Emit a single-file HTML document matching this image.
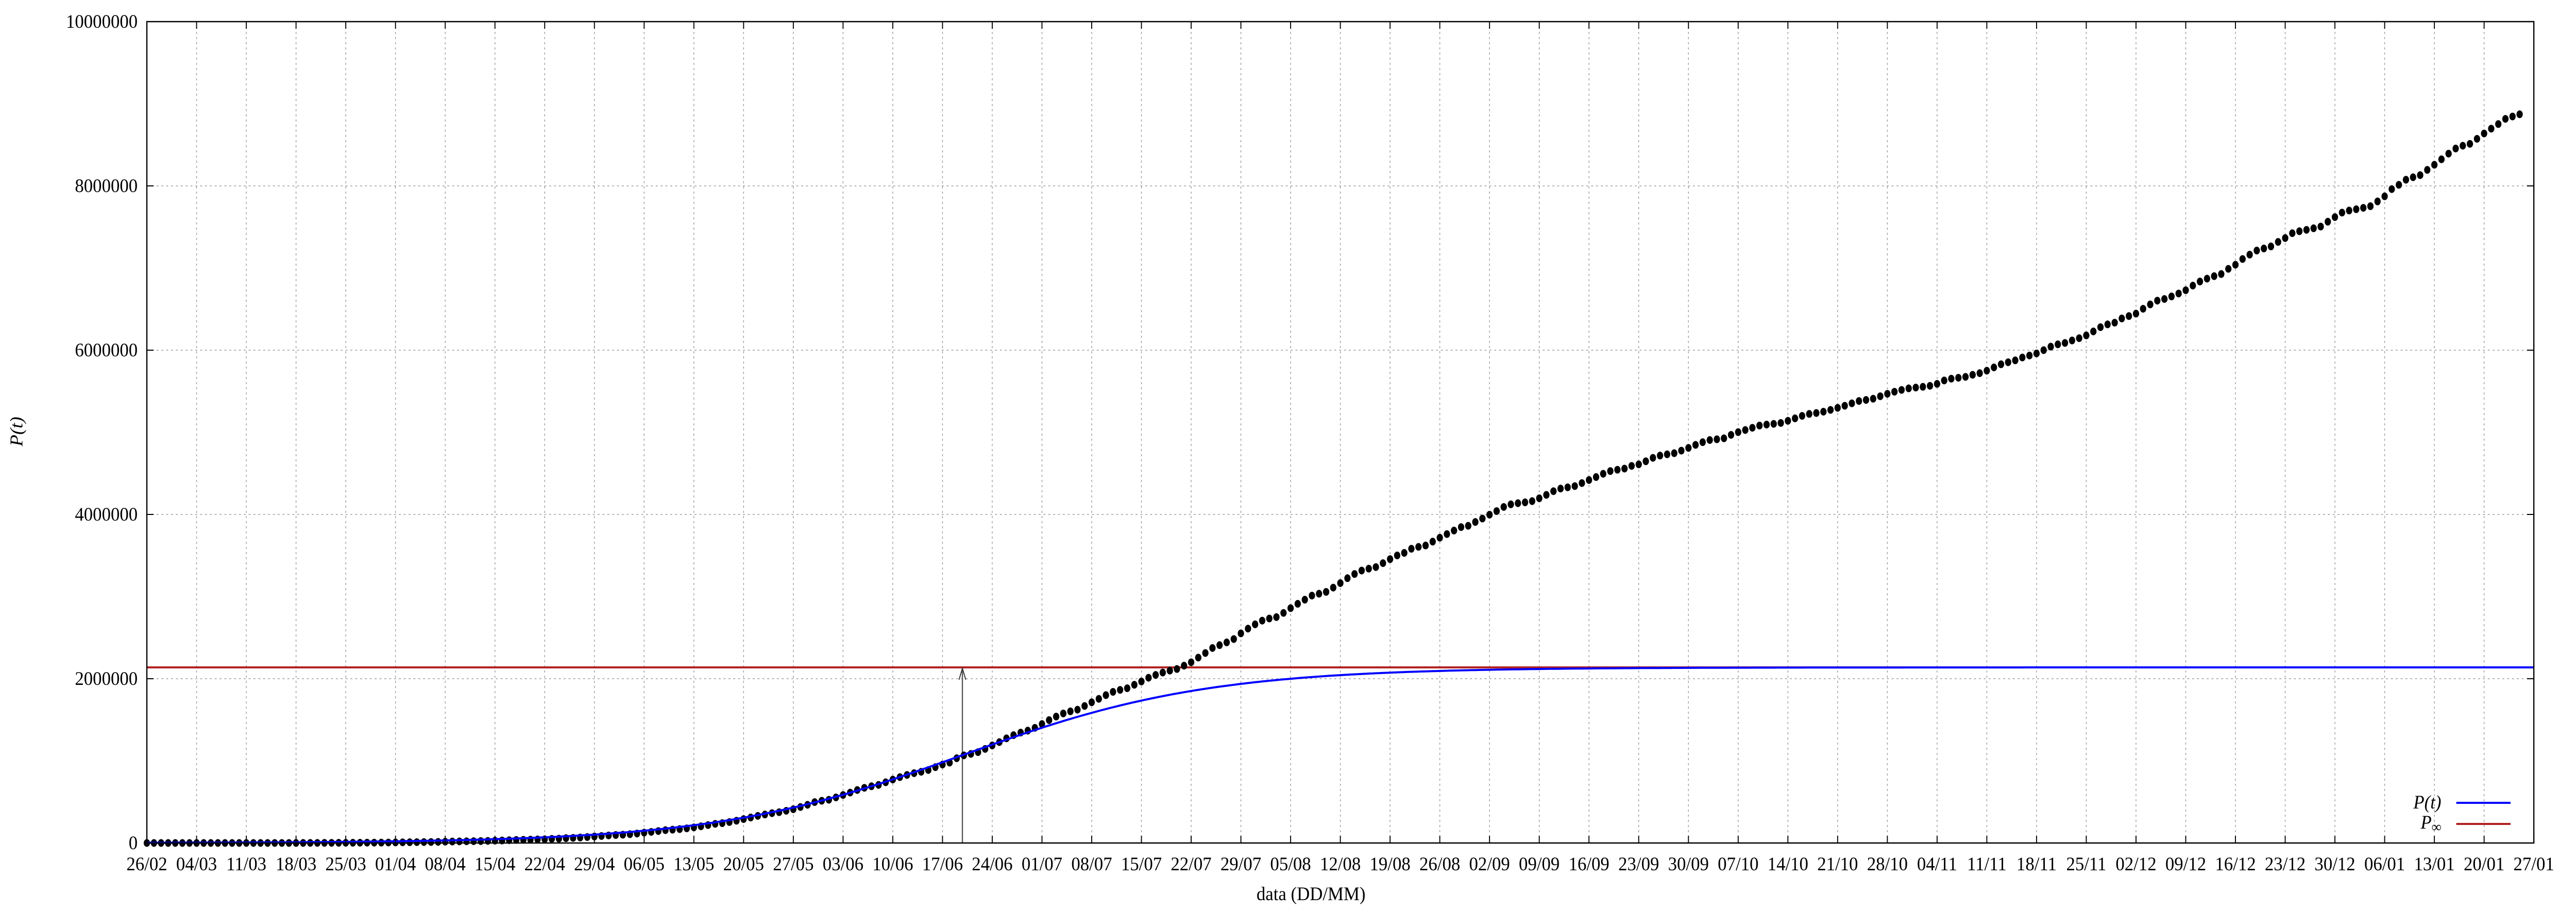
<!DOCTYPE html>
<html><head><meta charset="utf-8"><style>
html,body{margin:0;padding:0;background:#fff;width:100%;height:100%;overflow:hidden;}
svg{display:block;font-family:"Liberation Serif",serif;width:100vw;height:100vh;}
</style></head><body>
<svg id="chart" viewBox="0 0 5315 1771" preserveAspectRatio="none" xmlns="http://www.w3.org/2000/svg">
<rect x="0" y="0" width="5315" height="1771" fill="#fff"/>
<g id="grid"></g>
<g id="series"></g>
<g id="axes"></g>
<text x="2705" y="1748" font-size="37" text-anchor="middle">data (DD/MM)</text>
<text transform="translate(46,838) rotate(-90)" font-size="37" text-anchor="middle" font-style="italic">P(t)</text>
<g>
<text x="5037" y="1570" font-size="37" text-anchor="end" font-style="italic">P(t)</text>
<line x1="5068" y1="1559" x2="5180" y2="1559" stroke="#0000ff" stroke-width="4"/>
<text x="5037" y="1609" font-size="37" text-anchor="end" font-style="italic">P<tspan font-size="28" dy="6">∞</tspan></text>
<line x1="5068" y1="1600" x2="5180" y2="1600" stroke="#b22222" stroke-width="4"/>
</g>
</svg>
<script>
const xTickLabels = ["26/02","04/03","11/03","18/03","25/03","01/04","08/04","15/04","22/04","29/04","06/05","13/05","20/05","27/05","03/06","10/06","17/06","24/06","01/07","08/07","15/07","22/07","29/07","05/08","12/08","19/08","26/08","02/09","09/09","16/09","23/09","30/09","07/10","14/10","21/10","28/10","04/11","11/11","18/11","25/11","02/12","09/12","16/12","23/12","30/12","06/01","13/01","20/01","27/01"];
const yTicks = [0,2000000,4000000,6000000,8000000,10000000];
// daily cumulative cases (thousands), day 0 = 26/02
const cases = [
0,0,0,0,0,0,0,
0,0,0,0,0,0,0,
0.05,0.08,0.1,0.15,0.2,0.23,0.29,
0.43,0.62,0.9,1.1,1.5,1.9,2.2,
2.4,2.9,3.4,3.9,4.3,4.6,5.7,
6.8,8.0,9.1,10.3,11.1,12.1,13.7,
15.9,17.9,19.6,20.7,22.2,23.4,25.3,
28.3,30.4,33.7,36.6,38.6,40.6,43.1,
45.8,50.0,52.9,58.5,61.9,66.5,72.0,
79,85,92,97,101,107,115,
126,135,145,156,162,169,178,
190,203,218,233,241,255,271,
291,310,330,347,363,375,392,
411,438,465,498,514,526,555,
584,614,645,672,691,707,739,
772,802,828,850,867,888,923,
955,978,1032,1067,1085,1106,1145,
1188,1228,1274,1313,1344,1368,1402,
1448,1496,1539,1577,1603,1623,1668,
1713,1755,1800,1840,1864,1884,1926,
1966,2012,2046,2075,2098,2118,2159,
2200,2257,2313,2374,2409,2442,2483,
2552,2610,2662,2707,2733,2750,2801,
2859,2912,2962,3012,3035,3057,3109,
3164,3224,3275,3317,3340,3359,3407,
3456,3501,3532,3582,3605,3622,3669,
3717,3761,3804,3846,3862,3908,3950,
3997,4041,4091,4123,4137,4147,4162,
4197,4238,4283,4315,4330,4345,4382,
4419,4455,4495,4528,4544,4558,4591,
4610,4647,4689,4717,4732,4746,4777,
4810,4847,4880,4906,4915,4927,4969,
5002,5028,5055,5082,5094,5103,5114,
5140,5170,5200,5224,5235,5251,5273,
5298,5323,5353,5381,5394,5409,5439,
5469,5494,5516,5535,5545,5554,5566,
5590,5631,5653,5664,5675,5700,5720,
5750,5790,5828,5853,5876,5911,5935,
5960,6000,6043,6071,6088,6118,6146,
6180,6228,6280,6314,6335,6386,6415,
6445,6504,6557,6603,6623,6654,6690,
6730,6786,6836,6871,6901,6927,6990,
7040,7110,7163,7213,7238,7263,7318,
7365,7424,7448,7465,7484,7505,7564,
7620,7675,7700,7716,7733,7753,7811,
7873,7961,8013,8075,8105,8131,8195,
8257,8324,8393,8455,8489,8512,8573,
8638,8697,8753,8816,8845,8872
];
const pInf = 2138000;      // asymptote P∞
const growthRate = 0.0578; // logistic rate
const t0 = 114.8;          // inflection day (arrow)

const NS="http://www.w3.org/2000/svg";
const L=303,R=5228,T=42,B=1637,DAYS=336,YMAX=10000000;
const X=d=>L+(R-L)*d/DAYS;
const Y=v=>B-(B-T)*v/YMAX;
function mk(tag,attrs,parent){const e=document.createElementNS(NS,tag);for(const k in attrs)e.setAttribute(k,attrs[k]);parent.appendChild(e);return e;}
const grid=document.getElementById('grid'),series=document.getElementById('series'),axes=document.getElementById('axes');

xTickLabels.forEach((lab,i)=>{
  const x=X(i*7);
  if(i>0&&i<xTickLabels.length-1){
    const g=mk('line',{x1:x,y1:T,x2:x,y2:B,stroke:'#999','stroke-width':1.5,'stroke-dasharray':'4,6'},grid);
    
    
  }
  const t1=mk('line',{x1:x,y1:B,x2:x,y2:B-14,stroke:'#000','stroke-width':2},axes);
  
  
  const t2=mk('line',{x1:x,y1:T,x2:x,y2:T+14,stroke:'#000','stroke-width':2},axes);
  
  
  const tx=mk('text',{x:x,y:1690,'font-size':37,'text-anchor':'middle'},axes);
  tx.textContent=lab;
  
  
});
yTicks.forEach(v=>{
  const y=Y(v);
  if(v>0&&v<YMAX){
    const g=mk('line',{x1:L,y1:y,x2:R,y2:y,stroke:'#999','stroke-width':1.5,'stroke-dasharray':'4,6'},grid);
    
    
  }
  const t1=mk('line',{x1:L,y1:y,x2:L+14,y2:y,stroke:'#000','stroke-width':2},axes);
  
  
  const t2=mk('line',{x1:R,y1:y,x2:R-14,y2:y,stroke:'#000','stroke-width':2},axes);
  
  
  const tx=mk('text',{x:284,y:y+12,'font-size':37,'text-anchor':'end'},axes);
  tx.textContent=String(v);
  
  
});
const frame=mk('rect',{x:L,y:T,width:R-L,height:B-T,fill:'none',stroke:'#000','stroke-width':2.5},axes);



const red=mk('line',{x1:L,y1:Y(pInf),x2:R,y2:Y(pInf),stroke:'#b22222','stroke-width':4},series);


const ax=X(t0);
const arr=mk('line',{x1:ax,y1:B,x2:ax,y2:Y(pInf)+2,stroke:'#555','stroke-width':2.5},series);


const head=mk('polyline',{points:`${ax-7},${Y(pInf)+24} ${ax},${Y(pInf)+2} ${ax+7},${Y(pInf)+24}`,fill:'none',stroke:'#333','stroke-width':2},series);


cases.forEach((v,d)=>{
  const c=mk('ellipse',{cx:X(d),cy:Y(v*1000),rx:6.5,ry:7.5,fill:'#000'},series);
  
  
});
let pts=[];
for(let d=0;d<=DAYS;d+=0.5){const p=pInf/(1+Math.exp(-growthRate*(d-t0)));pts.push(X(d).toFixed(1)+','+Y(p).toFixed(1));}
const fit=mk('polyline',{points:pts.join(' '),fill:'none',stroke:'#0000ff','stroke-width':4},series);


</script>
</body></html>
